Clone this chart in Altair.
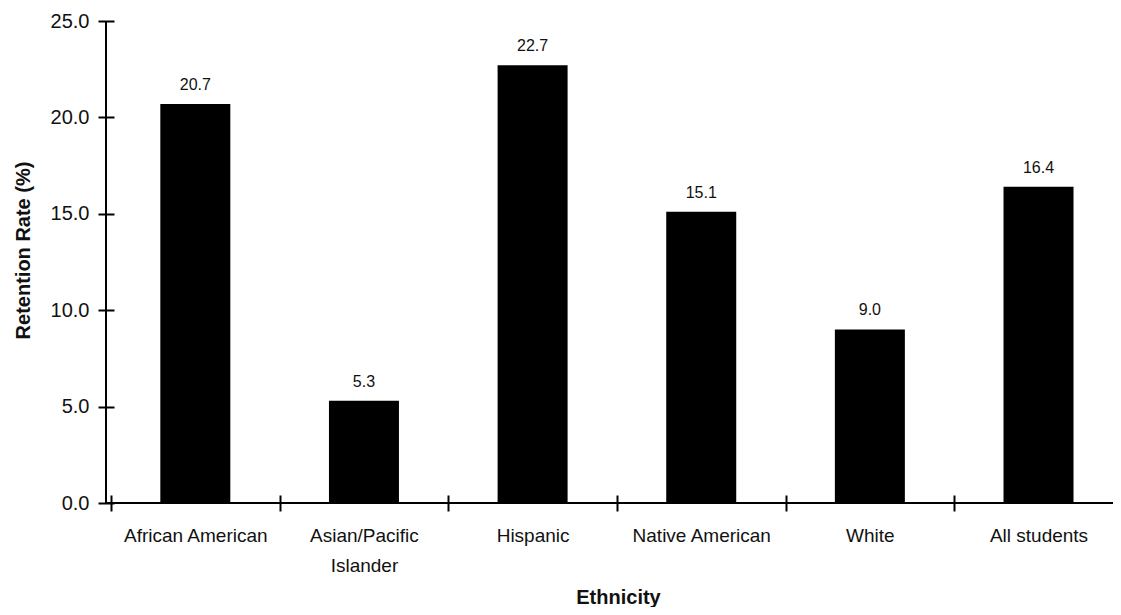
import altair as alt
import pandas as pd

categories = ["African American", "Asian/Pacific Islander", "Hispanic",
              "Native American", "White", "All students"]
label_lines = [["African American"], ["Asian/Pacific", "Islander"], ["Hispanic"],
               ["Native American"], ["White"], ["All students"]]
values = [20.7, 5.3, 22.7, 15.1, 9.0, 16.4]
y_ticks = [0, 5, 10, 15, 20, 25]

df = pd.DataFrame({
    "Ethnicity": categories,
    "Rate": values,
    "pos": [i + 0.5 for i in range(len(categories))],
})

W = 1007
H = 482
STEP = 170.33
x_max = W / STEP

lab_font = "Liberation Sans"
bold = "Liberation Sans"

arr = "[" + ",".join("[" + ",".join("'" + s + "'" for s in l) + "]" for l in label_lines) + "]"
label_expr = f"datum.value % 1 === 0 ? '' : {arr}[floor(datum.value)]"

x_enc = alt.X(
    "pos:Q",
    scale=alt.Scale(domain=[0, x_max], nice=False, zero=False),
    axis=alt.Axis(
        values=[i * 0.5 for i in range(12)],
        labelExpr=label_expr,
        tickOpacity={"condition": {"test": "datum.value % 1 === 0", "value": 1}, "value": 0},
        tickSize=16, tickWidth=2, tickColor="black",
        offset=-8, domain=False, grid=False,
        labelPadding=15, labelFont=lab_font, labelFontSize=19, labelColor="#111",
        labelLineHeight=30, labelAngle=0, labelOverlap=False, labelFlush=False,
        title="Ethnicity", titleFont=bold, titleFontSize=20, titleFontWeight="bold",
        titleColor="#111", titleX=512, titleY=92, titleBaseline="top",
    ),
)

y_enc = alt.Y(
    "Rate:Q",
    scale=alt.Scale(domain=[0, 25], nice=False),
    axis=alt.Axis(
        values=y_ticks, format=".1f",
        tickSize=16, tickWidth=2, tickColor="black",
        offset=-8, domain=False, grid=False,
        labelPadding=9, labelFont=lab_font, labelFontSize=20, labelColor="#111",
        title="Retention Rate (%)", titleFont=bold, titleFontSize=20,
        titleFontWeight="bold", titleColor="#111",
        titleX=-91, titleY=229, titleAngle=-90, titleBaseline="middle", titleAlign="center",
    ),
)

base = alt.Chart(df)

bars = base.mark_bar(size=70, color="black").encode(x=x_enc, y=y_enc)

labels = base.mark_text(baseline="alphabetic", dy=-14, font=lab_font, fontSize=16,
                        color="#111").encode(
    x="pos:Q", y="Rate:Q", text=alt.Text("Rate:Q", format=".1f"))

y_line = base.mark_rule(color="black", strokeWidth=2).encode(
    x=alt.value(0), y=alt.value(0), y2=alt.value(H))
x_line = base.mark_rule(color="black", strokeWidth=2).encode(
    x=alt.value(0), x2=alt.value(W), y=alt.value(H))

chart = alt.layer(bars, labels, y_line, x_line).properties(
    width=W, height=H,
    autosize=alt.AutoSizeParams(type="none"),
    padding={"left": 98, "top": 13, "right": 0, "bottom": 104},
).configure_view(stroke=None)

chart.save("out.html", embed_options={"renderer": "svg", "actions": False})
